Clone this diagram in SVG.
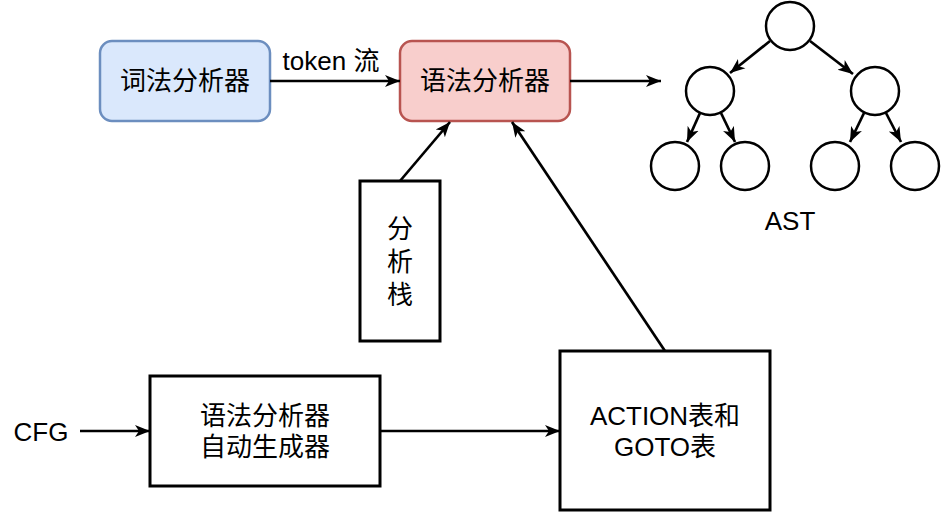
<svg xmlns="http://www.w3.org/2000/svg" width="942" height="513" viewBox="0 0 942 513">
<defs>
<marker id="arr" markerUnits="userSpaceOnUse" markerWidth="16" markerHeight="14" refX="15" refY="7" orient="auto">
<path d="M0,1 L15,7 L0,13 L4,7 Z" fill="#000"/>
</marker>
<style>
text{font-family:"Liberation Sans","Noto Sans CJK SC",sans-serif;font-size:26px;fill:#000;text-anchor:middle;}
.box{fill:#fff;stroke:#000;stroke-width:3;}
.c{fill:#fff;stroke:#000;stroke-width:2.5;}
.ln{fill:none;stroke:#000;stroke-width:2.7;marker-end:url(#arr);}
</style>
</defs>
<rect width="942" height="513" fill="#fff"/>
<g id="lexer">
<rect x="100" y="41" width="170" height="80" rx="12" fill="#dae8fc" stroke="#6c8ebf" stroke-width="2.5"/>
<text x="185" y="90">词法分析器</text>
</g>
<g id="parser">
<rect x="400" y="41" width="170" height="80" rx="12" fill="#f8cecc" stroke="#b85450" stroke-width="2.5"/>
<text x="485" y="90">语法分析器</text>
</g>
<g id="stack">
<rect class="box" x="360" y="181" width="80" height="160"/>
<text x="400" y="238">分</text>
<text x="400" y="271">析</text>
<text x="400" y="304">栈</text>
</g>
<g id="generator">
<rect class="box" x="150" y="376" width="230" height="110"/>
<text x="265" y="425">语法分析器</text>
<text x="265" y="456">自动生成器</text>
</g>
<g id="tables">
<rect class="box" x="560" y="351" width="210" height="159"/>
<text x="665" y="425">ACTION表和</text>
<text x="665" y="456">GOTO表</text>
</g>
<g id="cfg"><text x="41" y="441">CFG</text></g>
<g id="ast">
<circle class="c" cx="790" cy="26" r="24"/>
<circle class="c" cx="710" cy="91" r="24"/>
<circle class="c" cx="875" cy="91" r="24"/>
<circle class="c" cx="675" cy="166" r="24"/>
<circle class="c" cx="745" cy="166" r="24"/>
<circle class="c" cx="835" cy="166" r="24"/>
<circle class="c" cx="915" cy="166" r="24"/>
<text x="790" y="230">AST</text>
</g>
<g id="connectors">
<line class="ln" x1="270" y1="81" x2="400" y2="81"/>
<text x="331" y="70">token 流</text>
<line class="ln" x1="570" y1="81" x2="661" y2="81"/>
<line class="ln" x1="400" y1="181" x2="450" y2="122"/>
<line class="ln" x1="665" y1="351" x2="512" y2="122"/>
<line class="ln" x1="80" y1="431" x2="150" y2="431"/>
<line class="ln" x1="380" y1="431" x2="560" y2="431"/>
<line class="ln" x1="770" y1="41" x2="730" y2="73"/>
<line class="ln" x1="810" y1="41" x2="853" y2="74"/>
<line class="ln" x1="700" y1="113" x2="687" y2="142"/>
<line class="ln" x1="721" y1="113" x2="735" y2="142"/>
<line class="ln" x1="864" y1="113" x2="850" y2="142"/>
<line class="ln" x1="886" y1="113" x2="901" y2="142"/>
</g>
</svg>
